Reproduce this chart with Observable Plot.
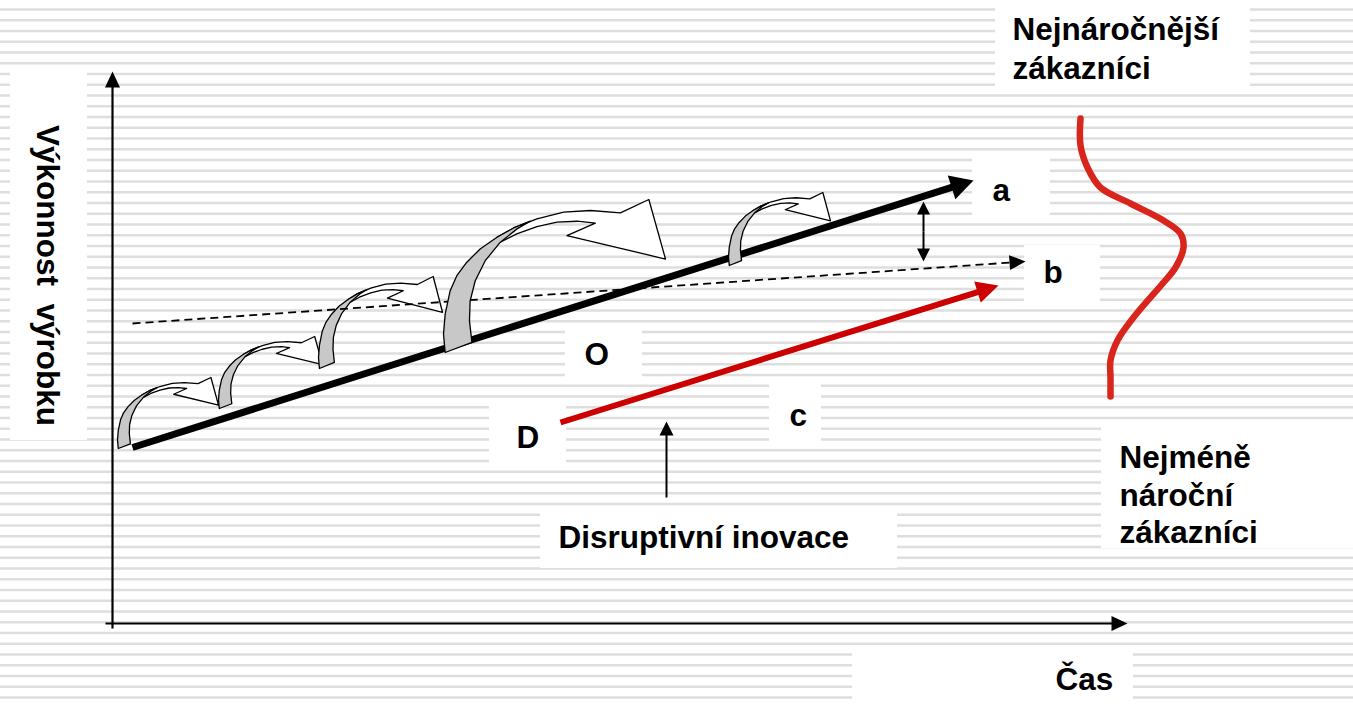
<!DOCTYPE html>
<html>
<head>
<meta charset="utf-8">
<script src="https://cdn.jsdelivr.net/npm/d3@7"></script>
<script src="https://cdn.jsdelivr.net/npm/@observablehq/plot@0.6"></script>
<style>
html, body { margin: 0; padding: 0; background: #fff; overflow: hidden; }
#chart svg { display: block; }
</style>
</head>
<body>
<div id="chart"></div>
<script>
const W = 1353, H = 706;

// background ruled texture rows
const stripeRows = d3.range(0, 66).map(k => 9 + k * 10.75);

// white label panels
const labelBoxes = [
  {x1: 10, x2: 87, y1: 72, y2: 440},
  {x1: 995, x2: 1250, y1: 0, y2: 93},
  {x1: 972, x2: 1050, y1: 158, y2: 215},
  {x1: 1024, x2: 1100, y1: 245, y2: 302},
  {x1: 565, x2: 642, y1: 330, y2: 384},
  {x1: 769, x2: 821, y1: 384, y2: 442},
  {x1: 489, x2: 566, y1: 405, y2: 463},
  {x1: 540, x2: 897, y1: 512, y2: 568},
  {x1: 1101, x2: 1353, y1: 423, y2: 548},
  {x1: 852, x2: 1133, y1: 652, y2: 706}
];

// axes (time →, performance ↑)
const axisLines = [
  {x1: 112, y1: 628, x2: 112, y2: 71},
  {x1: 105, y1: 623, x2: 1127, y2: 623}
];

// trajectories
const sustainingLine = [{x1: 132, y1: 447, x2: 973, y2: 180}];   // a
const customerNeedLine = [{x1: 132, y1: 323, x2: 1025, y2: 261}]; // b
const disruptiveLine = [{x1: 560, y1: 422, x2: 998, y2: 285}];    // c

// gap indicator and pointer
const gapArrow = [{x1: 923, y1: 231, x2: 923, y2: 201}, {x1: 923, y1: 231, x2: 923, y2: 261}];
const pointerArrow = [{x1: 666, y1: 497, x2: 666, y2: 421}];

// curved "jump" arrows (left, top, width, height)
const jumpArrows = [
  {left: 117, top: 377, w: 101, h: 71},
  {left: 218, top: 336, w: 104, h: 72},
  {left: 318, top: 276, w: 124, h: 92},
  {left: 443, top: 199, w: 222, h: 153},
  {left: 728, top: 192, w: 102, h: 73}
];

// template outline of a curved block arrow (unit box)
const grayTemplate = [
  [0.0075, 1.0], [0, 0.88], [0.0075, 0.749], [0.030, 0.596], [0.060, 0.498], [0.105, 0.410],
  [0.165, 0.323], [0.241, 0.247], [0.316, 0.186], [0.391, 0.142], [0.331, 0.192], [0.256, 0.279],
  [0.188, 0.400], [0.143, 0.531], [0.120, 0.662], [0.117, 0.793], [0.128, 0.934]
];
const whiteTemplate = [
  [0.241, 0.247], [0.316, 0.186], [0.421, 0.127], [0.541, 0.083], [0.662, 0.072], [0.797, 0.087],
  [0.925, 0], [1.0, 0.389], [0.556, 0.236], [0.684, 0.155], [0.602, 0.142], [0.511, 0.148],
  [0.421, 0.177], [0.330, 0.225], [0.256, 0.279]
];

// customer-demand distribution curve
const customerCurve = [
  {x: 1080, y: 118}, {x: 1080, y: 145}, {x: 1087, y: 167}, {x: 1100, y: 187}, {x: 1130, y: 203},
  {x: 1163, y: 220}, {x: 1180, y: 233}, {x: 1183, y: 247}, {x: 1175, y: 267}, {x: 1163, y: 282},
  {x: 1133, y: 317}, {x: 1117, y: 340}, {x: 1110, y: 360}, {x: 1110, y: 377}, {x: 1110, y: 396}
];

// text labels (x = start, y = baseline)
const labels = [
  {text: "Nejnáročnější", x: 1012, y: 39},
  {text: "zákazníci", x: 1012, y: 78},
  {text: "a", x: 992, y: 200},
  {text: "b", x: 1043, y: 282},
  {text: "O", x: 584, y: 364},
  {text: "c", x: 789, y: 425},
  {text: "D", x: 516, y: 447},
  {text: "Disruptivní inovace", x: 558, y: 547},
  {text: "Nejméně", x: 1119, y: 467},
  {text: "nároční", x: 1119, y: 505},
  {text: "zákazníci", x: 1119, y: 542},
  {text: "Čas", x: 1055, y: 689}
];
const yTitle = [{text: "Výkonnost\u00a0 výrobku", x: 47, y: 275}];

// ---- helpers (geometry in data units; scales are 1:1) ----
function headPoly(d, len, hw, id) {
  const dx = d.x2 - d.x1, dy = d.y2 - d.y1, L = Math.hypot(dx, dy);
  const ux = dx / L, uy = dy / L;
  const bx = d.x2 - ux * len, by = d.y2 - uy * len;
  return [
    {id, x: d.x2, y: d.y2},
    {id, x: bx - uy * hw, y: by + ux * hw},
    {id, x: bx + uy * hw, y: by - ux * hw}
  ];
}
function shaft(d, cut) {
  const dx = d.x2 - d.x1, dy = d.y2 - d.y1, L = Math.hypot(dx, dy);
  return {x1: d.x1, y1: d.y1, x2: d.x2 - dx / L * cut, y2: d.y2 - dy / L * cut};
}
function heads(arr, len, hw, tag) {
  return arr.flatMap((d, i) => headPoly(d, len, hw, tag + i));
}
function shapePts(arrows, template, tag) {
  return arrows.flatMap((a, i) => template.map(([u, v]) => ({id: tag + i, x: a.left + u * a.w, y: a.top + v * a.h})));
}

const font = "'Liberation Sans', Arial, Helvetica, sans-serif";
const backArrows = jumpArrows.slice(0, 3), frontArrows = jumpArrows.slice(3);

const chart = Plot.plot({
  width: W,
  height: H,
  margin: 0,
  x: {domain: [0, W], range: [0, W], axis: null},
  y: {domain: [0, H], range: [0, H], axis: null},
  style: {background: "white", fontFamily: font},
  marks: [
    Plot.ruleY(stripeRows, {stroke: "#dedede", strokeWidth: 2.4}),
    Plot.rect(labelBoxes, {x1: "x1", x2: "x2", y1: "y1", y2: "y2", fill: "white"}),
    // axes
    Plot.link(axisLines.map(d => shaft(d, 12)), {x1: "x1", y1: "y1", x2: "x2", y2: "y2", stroke: "black", strokeWidth: 2.2}),
    Plot.line(heads(axisLines, 16, 7.5, "ax"), {x: "x", y: "y", z: "id", fill: "black", stroke: "none", curve: "linear-closed"}),
    // sustaining trajectory (a)
    Plot.link(sustainingLine.map(d => shaft(d, 18)), {x1: "x1", y1: "y1", x2: "x2", y2: "y2", stroke: "black", strokeWidth: 7}),
    Plot.line(heads(sustainingLine, 23, 12.5, "a"), {x: "x", y: "y", z: "id", fill: "black", stroke: "none", curve: "linear-closed"}),
    // back curved arrows
    Plot.line(shapePts(backArrows, whiteTemplate, "wb"), {x: "x", y: "y", z: "id", fill: "white", stroke: "black", strokeWidth: 1.3, curve: "linear-closed"}),
    Plot.line(shapePts(backArrows, grayTemplate, "gb"), {x: "x", y: "y", z: "id", fill: "#c8c8c8", stroke: "black", strokeWidth: 1.3, curve: "linear-closed"}),
    // customer need trajectory (b)
    Plot.link(customerNeedLine.map(d => shaft(d, 12)), {x1: "x1", y1: "y1", x2: "x2", y2: "y2", stroke: "black", strokeWidth: 1.8, strokeDasharray: "8,5"}),
    Plot.line(heads(customerNeedLine, 16, 7.5, "b"), {x: "x", y: "y", z: "id", fill: "black", stroke: "none", curve: "linear-closed"}),
    // front curved arrows
    Plot.line(shapePts(frontArrows, whiteTemplate, "wf"), {x: "x", y: "y", z: "id", fill: "white", stroke: "black", strokeWidth: 1.3, curve: "linear-closed"}),
    Plot.line(shapePts(frontArrows, grayTemplate, "gf"), {x: "x", y: "y", z: "id", fill: "#c8c8c8", stroke: "black", strokeWidth: 1.3, curve: "linear-closed"}),
    // disruptive trajectory (c)
    Plot.link(disruptiveLine.map(d => shaft(d, 16)), {x1: "x1", y1: "y1", x2: "x2", y2: "y2", stroke: "#cc0000", strokeWidth: 6}),
    Plot.line(heads(disruptiveLine, 22, 11, "c"), {x: "x", y: "y", z: "id", fill: "#cc0000", stroke: "none", curve: "linear-closed"}),
    // gap and pointer arrows
    Plot.link(gapArrow.map(d => shaft(d, 8)), {x1: "x1", y1: "y1", x2: "x2", y2: "y2", stroke: "black", strokeWidth: 2}),
    Plot.line(heads(gapArrow, 13, 6.5, "g"), {x: "x", y: "y", z: "id", fill: "black", stroke: "none", curve: "linear-closed"}),
    Plot.link(pointerArrow.map(d => shaft(d, 8)), {x1: "x1", y1: "y1", x2: "x2", y2: "y2", stroke: "black", strokeWidth: 2}),
    Plot.line(heads(pointerArrow, 14, 7, "p"), {x: "x", y: "y", z: "id", fill: "black", stroke: "none", curve: "linear-closed"}),
    // customer distribution
    Plot.line(customerCurve, {x: "x", y: "y", stroke: "#d9261c", strokeWidth: 6.5, curve: "catmull-rom"}),
    // texts
    Plot.text(labels, {x: "x", y: "y", text: "text", textAnchor: "start", lineAnchor: "bottom", fontSize: 31.5, fontWeight: "bold", fill: "black", fontFamily: font}),
    Plot.text(yTitle, {x: "x", y: "y", text: "text", rotate: 90, textAnchor: "middle", lineAnchor: "middle", fontSize: 31.5, fontWeight: "bold", fill: "black", fontFamily: font})
  ]
});
document.getElementById("chart").append(chart);
</script>
</body>
</html>
